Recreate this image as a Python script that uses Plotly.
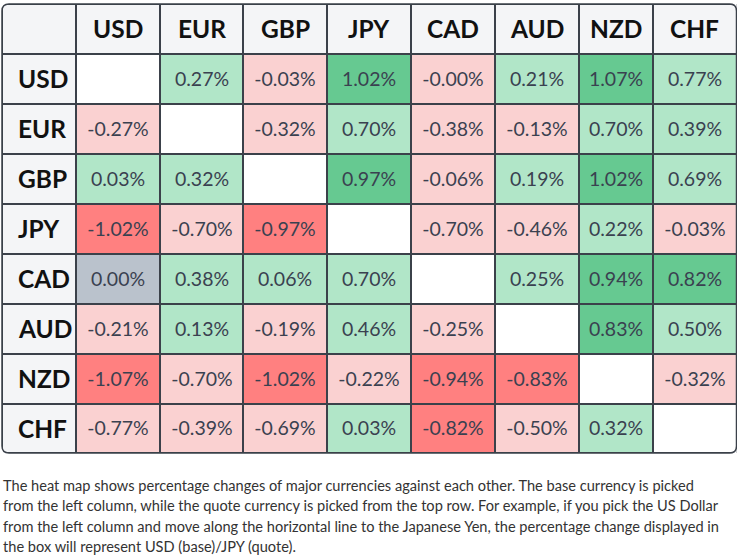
import plotly.graph_objects as go

# ---------------- data ----------------
currencies = ["USD", "EUR", "GBP", "JPY", "CAD", "AUD", "NZD", "CHF"]
usd = [None, 0.27, -0.03, 1.02, -0.001, 0.21, 1.07, 0.77]
eur = [-0.27, None, -0.32, 0.70, -0.38, -0.13, 0.70, 0.39]
gbp = [0.03, 0.32, None, 0.97, -0.06, 0.19, 1.02, 0.69]
jpy = [-1.02, -0.70, -0.97, None, -0.70, -0.46, 0.22, -0.03]
cad = [0.00, 0.38, 0.06, 0.70, None, 0.25, 0.94, 0.82]
aud = [-0.21, 0.13, -0.19, 0.46, -0.25, None, 0.83, 0.50]
nzd = [-1.07, -0.70, -1.02, -0.22, -0.94, -0.83, None, -0.32]
chf = [-0.77, -0.39, -0.69, 0.03, -0.82, -0.50, 0.32, None]
rows = [usd, eur, gbp, jpy, cad, aud, nzd, chf]

caption_lines = [
    "The heat map shows percentage changes of major currencies against each other. The base currency is picked",
    "from the left column, while the quote currency is picked from the top row. For example, if you pick the US Dollar",
    "from the left column and move along the horizontal line to the Japanese Yen, the percentage change displayed in",
    "the box will represent USD (base)/JPY (quote).",
]

# ---------------- layout constants ----------------
W, H = 737, 556
x_edges = [2, 76, 160, 243.3, 327.3, 411, 495, 579, 652.7, 736.5]
y_edges = [4, 53.5, 103.5, 153.5, 203.5, 253.5, 303.5, 353.5, 403.5, 453]
caption_y = [485, 505.5, 526, 546.5]
BORDER = "#3b414a"
HEADER_BG = "#f4f5f7"
colors = {
    0: HEADER_BG,   # header
    1: "#ffffff",   # diagonal
    2: "#b1e6c8",   # light green
    3: "#66c991",   # strong green
    4: "#fad1d1",   # light red
    5: "#ff8080",   # strong red
    6: "#bac2cc",   # unchanged
}


def category(v):
    if v is None:
        return 1
    if v == 0:
        return 6
    if v >= 0.8:
        return 3
    if v > 0:
        return 2
    if v <= -0.8:
        return 5
    return 4


n = len(currencies)
z = [[0] * (n + 1)]
text = [[""] * (n + 1)]
for r in rows:
    z.append([0] + [category(v) for v in r])
    text.append([""] + ["" if v is None else f"{v:.2f}%" for v in r])

k = len(colors) - 1
cs = []
for i in range(len(colors)):
    lo = max(0, (i - 0.5) / k)
    hi = min(1, (i + 0.5) / k)
    cs.append([lo, colors[i]])
    cs.append([hi, colors[i]])

fig = go.Figure()
fig.add_trace(go.Heatmap(
    x=x_edges, y=y_edges, z=z, text=text,
    texttemplate="%{text}",
    textfont=dict(family="Lato", size=19.5, color="#3a4150"),
    colorscale=cs, zmin=0, zmax=k, showscale=False,
    xgap=2, ygap=2, hoverinfo="skip",
))

annotations = []
for i, c in enumerate(currencies):
    cx = (x_edges[i + 1] + x_edges[i + 2]) / 2
    annotations.append(dict(x=cx, y=(y_edges[0] + y_edges[1]) / 2, xref="x", yref="y",
                            text=f"<b>{c}</b>", showarrow=False,
                            font=dict(family="Lato", size=24.5, color="#111111"),
                            xanchor="center", yanchor="middle"))
    cy = (y_edges[i + 1] + y_edges[i + 2]) / 2
    annotations.append(dict(x=16, y=cy, xref="x", yref="y",
                            text=f"<b>{c}</b>", showarrow=False,
                            font=dict(family="Lato", size=24.5, color="#111111"),
                            xanchor="left", yanchor="middle"))

for line, ly in zip(caption_lines, caption_y):
    annotations.append(dict(x=1, y=ly, xref="x", yref="y", text=line, showarrow=False,
                            align="left", xanchor="left", yanchor="middle",
                            font=dict(family="Lato", size=14.6, color="#333333")))

x0, x1, y0, y1 = x_edges[0], x_edges[-1], y_edges[0], y_edges[-1]
r = 7
shapes = [dict(type="rect", x0=x0, x1=x1, y0=y0, y1=y1, xref="x", yref="y",
               fillcolor=BORDER, line=dict(width=0), layer="below")]
corners = [
    f"M {x0},{y0} L {x0 + r},{y0} Q {x0},{y0} {x0},{y0 + r} Z",
    f"M {x1},{y0} L {x1 - r},{y0} Q {x1},{y0} {x1},{y0 + r} Z",
    f"M {x0},{y1} L {x0 + r},{y1} Q {x0},{y1} {x0},{y1 - r} Z",
    f"M {x1},{y1} L {x1 - r},{y1} Q {x1},{y1} {x1},{y1 - r} Z",
]
for p in corners:
    shapes.append(dict(type="path", path=p, xref="x", yref="y", fillcolor="#ffffff",
                       line=dict(width=0), layer="above"))
outline = (f"M {x0 + r},{y0} L {x1 - r},{y0} Q {x1},{y0} {x1},{y0 + r} "
           f"L {x1},{y1 - r} Q {x1},{y1} {x1 - r},{y1} L {x0 + r},{y1} "
           f"Q {x0},{y1} {x0},{y1 - r} L {x0},{y0 + r} Q {x0},{y0} {x0 + r},{y0} Z")
shapes.append(dict(type="path", path=outline, xref="x", yref="y",
                   line=dict(color=BORDER, width=1.5), layer="above"))

fig.update_layout(
    width=W, height=H, margin=dict(l=0, r=0, t=0, b=0),
    paper_bgcolor="#ffffff", plot_bgcolor="#ffffff",
    xaxis=dict(range=[0, W], visible=False, fixedrange=True),
    yaxis=dict(range=[H, 0], visible=False, fixedrange=True),
    annotations=annotations, shapes=shapes, showlegend=False,
)

fig.write_html("out.html", config={"displayModeBar": False},
               post_script="document.body.style.margin='0';document.body.style.overflow='hidden';")
